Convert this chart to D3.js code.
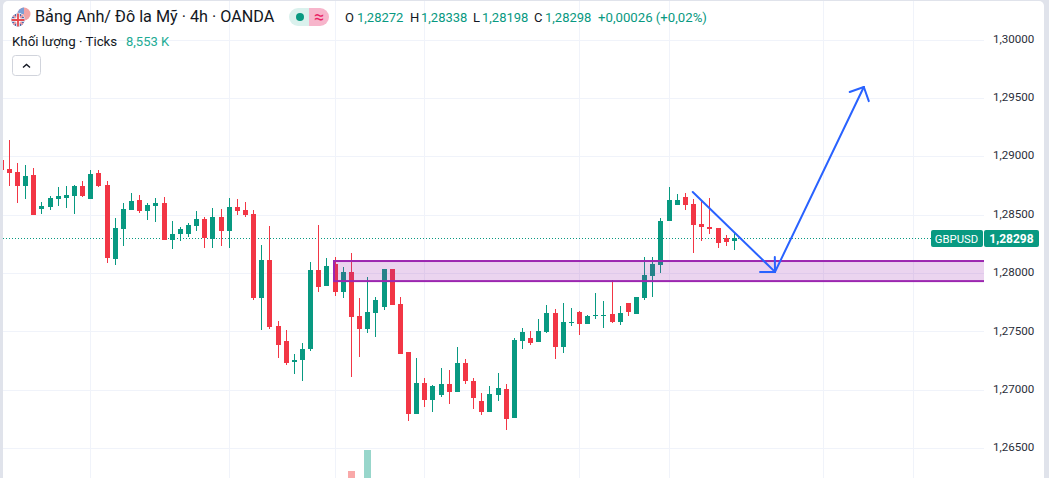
<!DOCTYPE html>
<html><head><meta charset="utf-8">
<script src="https://d3js.org/d3.v7.min.js"></script>
<style>
html,body{margin:0;padding:0;background:#e0e3eb;overflow:hidden}
svg{display:block}
text{font-family:Roboto,"Liberation Sans",sans-serif}
</style></head><body>
<svg id="c" width="1049" height="478"></svg>
<script>
// Candle data, index 0..90
const opens=[1.28967,1.28890,1.28864,1.28744,1.28838,1.28547,1.28564,1.28633,1.28641,1.28658,1.28744,1.28633,1.28856,1.28753,1.28118,1.28376,1.28539,1.28624,1.28530,1.28573,1.28599,1.28281,1.28333,1.28333,1.28401,1.28461,1.28290,1.28479,1.28359,1.28564,1.28539,1.28504,1.27784,1.28110,1.27544,1.27416,1.27236,1.27253,1.27347,1.28024,1.27887,1.28076,1.27836,1.28007,1.27630,1.27518,1.27656,1.27707,1.28033,1.27733,1.27321,1.26790,1.27056,1.26910,1.26953,1.27047,1.26979,1.27227,1.27073,1.26901,1.26807,1.26953,1.27004,1.26756,1.27416,1.27441,1.27407,1.27493,1.27656,1.27364,1.27570,1.27664,1.27561,1.27630,1.27630,1.27647,1.27578,1.27741,1.27647,1.27784,1.27973,1.28067,1.28444,1.28581,1.28650,1.28590,1.28419,1.28393,1.28384,1.28299,1.28272];
const highs=[1.28967,1.29138,1.28941,1.28924,1.28898,1.28607,1.28658,1.28736,1.28744,1.28753,1.28787,1.28881,1.28881,1.28787,1.28470,1.28599,1.28684,1.28667,1.28599,1.28641,1.28650,1.28444,1.28393,1.28427,1.28530,1.28479,1.28556,1.28547,1.28641,1.28633,1.28607,1.28539,1.28239,1.28401,1.27587,1.27510,1.27304,1.27398,1.28093,1.28410,1.28127,1.28136,1.28050,1.28170,1.27784,1.27964,1.27793,1.28033,1.28033,1.27793,1.27321,1.27270,1.27099,1.27039,1.27184,1.27167,1.27364,1.27261,1.27099,1.26970,1.27030,1.27141,1.27047,1.27441,1.27527,1.27501,1.27604,1.27724,1.27690,1.27741,1.27698,1.27673,1.27638,1.27827,1.27758,1.27938,1.27715,1.27741,1.27793,1.28136,1.28136,1.28470,1.28736,1.28676,1.28684,1.28633,1.28624,1.28641,1.28384,1.28324,1.28338];
const lows=[1.28881,1.28744,1.28599,1.28633,1.28496,1.28504,1.28539,1.28573,1.28556,1.28504,1.28650,1.28633,1.28736,1.28084,1.28067,1.28230,1.28539,1.28513,1.28453,1.28436,1.28281,1.28204,1.28273,1.28307,1.28359,1.28213,1.28213,1.28230,1.28213,1.28496,1.28479,1.27767,1.27510,1.27518,1.27270,1.27210,1.27133,1.27073,1.27330,1.27836,1.27887,1.27801,1.27784,1.27107,1.27279,1.27484,1.27450,1.27681,1.27724,1.27304,1.26730,1.26790,1.26850,1.26807,1.26936,1.26876,1.26979,1.27047,1.26833,1.26781,1.26807,1.26901,1.26653,1.26756,1.27347,1.27381,1.27407,1.27484,1.27261,1.27313,1.27544,1.27467,1.27561,1.27604,1.27527,1.27570,1.27553,1.27630,1.27647,1.27767,1.27793,1.27999,1.28444,1.28581,1.28539,1.28170,1.28273,1.28333,1.28213,1.28230,1.28198];
const closes=[1.28881,1.28856,1.28744,1.28830,1.28496,1.28573,1.28641,1.28658,1.28667,1.28744,1.28658,1.28847,1.28744,1.28127,1.28384,1.28547,1.28616,1.28530,1.28581,1.28599,1.28281,1.28333,1.28376,1.28410,1.28461,1.28299,1.28479,1.28359,1.28564,1.28530,1.28496,1.27784,1.28110,1.27536,1.27381,1.27227,1.27253,1.27347,1.28024,1.27879,1.28059,1.27836,1.28007,1.27621,1.27518,1.27664,1.27767,1.28033,1.27724,1.27304,1.26790,1.27056,1.26910,1.27030,1.27047,1.26979,1.27227,1.27073,1.26927,1.26807,1.26962,1.27013,1.26747,1.27424,1.27493,1.27398,1.27501,1.27656,1.27364,1.27578,1.27578,1.27561,1.27630,1.27638,1.27638,1.27578,1.27656,1.27664,1.27793,1.27981,1.28076,1.28444,1.28624,1.28624,1.28581,1.28410,1.28393,1.28376,1.28256,1.28264,1.28298];
const volumeIndex=[43,45];
const volumeValues=[7,28];
const priceTicks=[1.30,1.295,1.29,1.285,1.28,1.275,1.27,1.265];
const gridIndex=[11,28,41,52,71,82,101,112];
const zoneHigh=1.28102, zoneLow=1.27930, zoneStart=40.85;
const arrowDown=[[84.9,1.28693],[95.0,1.28009]];
const arrowUp=[[95.0,1.28009],[105.9,1.29593]];
const lastPrice=1.28298;

const UP="#089981",DOWN="#f23645",GRID="#f0f3fa";
const svg=d3.select("#c");
const x=d3.scaleLinear().domain([1,90]).range([9.3,734.3]);
const y=d3.scaleLinear().domain([1.265,1.30]).range([448,39.5]);
const fmt=d=>d3.format(".5f")(d).replace(".",",");

// panel
svg.append("rect").attr("x",3).attr("y",1).attr("width",1041).attr("height",490).attr("rx",5).attr("fill","#fff");
const defs=svg.append("defs");
defs.append("clipPath").attr("id","plot").append("rect").attr("x",3).attr("y",1).attr("width",981).attr("height",477);
const plot=svg.append("g").attr("clip-path","url(#plot)");

// grid
plot.append("g").selectAll("line").data(priceTicks).join("line")
 .attr("x1",3).attr("x2",984).attr("y1",d=>Math.round(y(d))+.5).attr("y2",d=>Math.round(y(d))+.5).attr("stroke",GRID);
plot.append("g").selectAll("line").data(gridIndex).join("line")
 .attr("x1",d=>Math.floor(x(d))+.5).attr("x2",d=>Math.floor(x(d))+.5).attr("y1",0).attr("y2",478).attr("stroke",GRID);

// volume
const yv=d3.scaleLinear().domain([0,28]).range([478,450]);
plot.append("g").selectAll("rect").data(volumeIndex).join("rect")
 .attr("x",d=>Math.floor(x(d))-3).attr("width",7)
 .attr("y",(d,i)=>yv(volumeValues[i])).attr("height",(d,i)=>478-yv(volumeValues[i]))
 .attr("fill",d=>closes[d]>=opens[d]?"#98d6cb":"#f9a9a9");

// last price line
plot.append("line").attr("x1",3).attr("x2",931).attr("y1",Math.round(y(lastPrice))+.5).attr("y2",Math.round(y(lastPrice))+.5)
 .attr("stroke",UP).attr("stroke-dasharray","1 2");

// candles
const idx=d3.range(opens.length);
const col=i=>closes[i]>=opens[i]?UP:DOWN;
const cg=plot.append("g").attr("shape-rendering","crispEdges");
cg.selectAll(".w").data(idx).join("rect").attr("class","w")
 .attr("x",i=>Math.floor(x(i))).attr("width",1)
 .attr("y",i=>Math.round(y(highs[i]))).attr("height",i=>Math.max(1,Math.round(y(lows[i]))-Math.round(y(highs[i]))))
 .attr("fill",col);
cg.selectAll(".b").data(idx).join("rect").attr("class","b")
 .attr("x",i=>Math.floor(x(i))-2).attr("width",5)
 .attr("y",i=>Math.round(y(Math.max(opens[i],closes[i]))))
 .attr("height",i=>Math.max(1,Math.abs(Math.round(y(opens[i]))-Math.round(y(closes[i])))))
 .attr("fill",col);

// zone
const zx=Math.round(x(zoneStart));
plot.append("rect").attr("x",zx).attr("width",984-zx+4).attr("y",y(zoneHigh)).attr("height",y(zoneLow)-y(zoneHigh))
 .attr("fill","#9c27b0").attr("fill-opacity",.2).attr("stroke","#9c27b0").attr("stroke-width",2);

// arrows
const line=d3.line().x(d=>x(d[0])).y(d=>y(d[1]));
function arrow(pts){
 const g=plot.append("g").attr("fill","none").attr("stroke","#2962ff").attr("stroke-width",2).attr("stroke-linecap","round");
 g.append("path").attr("d",line(pts));
 const tx=x(pts[1][0]),ty=y(pts[1][1]),a=Math.atan2(y(pts[0][1])-ty,x(pts[0][0])-tx);
 [-Math.PI/4,Math.PI/4].forEach(o=>g.append("line").attr("x1",tx).attr("y1",ty)
   .attr("x2",tx+15*Math.cos(a+o)).attr("y2",ty+15*Math.sin(a+o)));
}
arrow(arrowDown);arrow(arrowUp);

// price axis
const axis=d3.axisRight(y).tickValues(priceTicks).tickFormat(fmt).tickSize(0).tickPadding(0);
const ag=svg.append("g").attr("transform","translate(993,-1)").call(axis);
ag.select(".domain").remove();
ag.selectAll("text").attr("fill","#2a2e39").attr("style","font-family:Roboto;font-size:11.6px");

// last price labels
const ly=Math.round(y(lastPrice));
svg.append("rect").attr("x",931).attr("y",ly-8).attr("width",52).attr("height",17).attr("rx",2).attr("fill",UP);
svg.append("rect").attr("x",984).attr("y",ly-8).attr("width",55).attr("height",17).attr("rx",2).attr("fill",UP);
svg.append("text").attr("x",956.5).attr("y",ly+4.5).attr("text-anchor","middle").attr("fill","#fff").attr("font-size",11.3).text("GBPUSD");
svg.append("text").attr("x",1011.5).attr("y",ly+4.5).attr("text-anchor","middle").attr("fill","#fff").attr("font-size",12).attr("font-weight",700).text(fmt(lastPrice));

// header
const T=(s,px,py,size,fill)=>svg.append("text").attr("x",px).attr("y",py).attr("font-size",size).attr("fill",fill).text(s);
T("Bảng Anh/ Đô la Mỹ · 4h · OANDA",35,22,16.2,"#131722");
T("Khối lượng · Ticks",12,46,13.3,"#131722");
T("8,553 K",126,46,13,"#22ab94");
const teal="#089981";
T("O",345,22,13,"#131722");
T(fmt(opens[90]),357,22,13,teal);
T("H",410,22,13,"#131722");
T(fmt(highs[90]),421,22,13,teal);
T("L",473,22,13,"#131722");
T(fmt(lows[90]),482,22,13,teal);
T("C",534,22,13,"#131722");
T(fmt(closes[90]),545,22,13,teal);
T("+0,00026 (+0,02%)",598,22,13.2,teal);

// status pill
svg.append("path").attr("d","M309 8H298a9 9 0 0 0 0 18H309Z").attr("fill","#daf1ed");
svg.append("path").attr("d","M309 8H320a9 9 0 0 1 0 18H309Z").attr("fill","#f7b5cb");
svg.append("circle").attr("cx",300).attr("cy",17).attr("r",4).attr("fill",teal);
svg.append("text").attr("x",319).attr("y",23).attr("text-anchor","middle").attr("font-size",18).attr("fill","#e91e63").text("≈");

// button
svg.append("rect").attr("x",12.5).attr("y",55.5).attr("width",28).attr("height",20).attr("rx",3).attr("fill","#fff").attr("stroke","#d1d4dc");
svg.append("path").attr("d","M23 67.5l3.5-3 3.5 3").attr("fill","none").attr("stroke","#131722").attr("stroke-width",1.4);

// flag
const f=svg.append("g");
defs.append("clipPath").attr("id","us").append("circle").attr("cx",24).attr("cy",14).attr("r",6.5);
defs.append("clipPath").attr("id","uk").append("circle").attr("cx",18).attr("cy",20).attr("r",6.5);
const us=f.append("g").attr("clip-path","url(#us)");
us.append("rect").attr("x",17).attr("y",7).attr("width",14).attr("height",14).attr("fill","#fff");
d3.range(0,7).forEach(i=>us.append("rect").attr("x",17).attr("y",7.5+i*2).attr("width",14).attr("height",1).attr("fill","#e5484d"));
us.append("rect").attr("x",17).attr("y",7).attr("width",7).attr("height",7).attr("fill","#7b9fd6");
f.append("circle").attr("cx",18).attr("cy",20).attr("r",7.2).attr("fill","#fff");
const uk=f.append("g").attr("clip-path","url(#uk)");
uk.append("rect").attr("x",11).attr("y",13).attr("width",14).attr("height",14).attr("fill","#3f5fa8");
uk.append("path").attr("d","M11 13L25 27M25 13L11 27").attr("stroke","#f2a0a5").attr("stroke-width",2);
uk.append("path").attr("d","M18 13V27M11 20H25").attr("stroke","#fff").attr("stroke-width",3.5);
uk.append("path").attr("d","M18 13V27M11 20H25").attr("stroke","#e5484d").attr("stroke-width",1.8);
</script>
</body></html>
